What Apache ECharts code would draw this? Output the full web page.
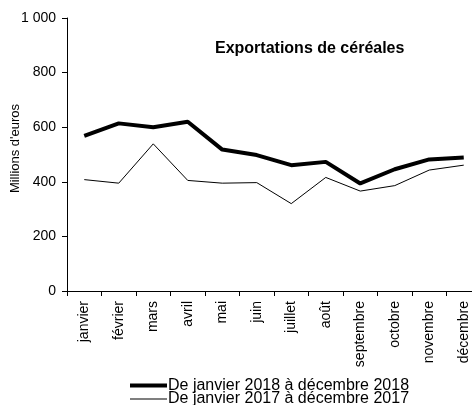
<!DOCTYPE html>
<html>
<head>
<meta charset="utf-8">
<script src="https://cdn.jsdelivr.net/npm/echarts@6/dist/echarts.min.js"></script>
<style>
  html, body { margin: 0; padding: 0; background: #fff; }
  #chart { width: 472px; height: 405px; }
</style>
</head>
<body>
<div id="chart"></div>
<script>
// mois
var months = ['janvier', 'février', 'mars', 'avril', 'mai', 'juin',
  'juillet', 'août', 'septembre', 'octobre', 'novembre', 'décembre'];
// millions d'euros
var exp2018 = [568, 614, 600, 620, 518, 498, 461, 473, 394, 446, 482, 489];
var exp2017 = [408, 395, 539, 405, 395, 397, 320, 416, 366, 386, 443, 461];
var yTicks = [0, 200, 400, 600, 800, 1000];
var names = ['De janvier 2018 à décembre 2018', 'De janvier 2017 à décembre 2017'];

var font = 'Arial, "Liberation Sans", sans-serif';
var chart = echarts.init(document.getElementById('chart'));

function legendRow(name, top, thick) {
  return {
    orient: 'horizontal',
    left: 130,
    top: top,
    padding: 0,
    icon: 'rect',
    itemWidth: 37,
    itemHeight: thick,
    textStyle: { fontFamily: font, fontSize: 16, color: '#000', lineHeight: 13, padding: [0, 0, 0, -4] },
    data: [name]
  };
}

var option = {
  backgroundColor: '#ffffff',
  animation: false,
  textStyle: { fontFamily: font, color: '#000' },
  title: {
    text: 'Exportations de céréales',
    left: 215,
    top: 41,
    padding: 0,
    textStyle: { fontFamily: font, fontSize: 16, fontWeight: 'bold', color: '#000' }
  },
  // the last category runs past the right edge, as in the original
  grid: { left: 67, top: 18, width: 414, height: 273, containLabel: false, outerBoundsMode: 'none' },
  legend: [
    legendRow(names[0], 377.5, 4),
    legendRow(names[1], 391, 1)
  ],
  xAxis: {
    type: 'category',
    data: months,
    boundaryGap: true,
    axisLine: { lineStyle: { color: '#000', width: 1 } },
    axisTick: { show: true, length: 5, lineStyle: { color: '#000' } },
    axisLabel: { rotate: 90, margin: 10, fontSize: 14, color: '#000', fontFamily: font, interval: 0 },
    splitLine: { show: false }
  },
  yAxis: {
    type: 'value',
    min: yTicks[0],
    max: yTicks[yTicks.length - 1],
    interval: 200,
    name: "Millions d'euros",
    nameLocation: 'middle',
    nameGap: 45,
    nameMoveOverlap: false,
    nameRotate: 90,
    nameTextStyle: { fontSize: 13, color: '#000', fontFamily: font, padding: [0, 0, 0, 12] },
    axisLine: { show: true, lineStyle: { color: '#000', width: 1 } },
    axisTick: { show: true, length: 5, lineStyle: { color: '#000' } },
    axisLabel: {
      margin: 11, fontSize: 14, color: '#000', fontFamily: font,
      formatter: function (v) { return v >= 1000 ? String(v).replace(/\B(?=(\d{3})+$)/g, ' ') : String(v); }
    },
    splitLine: { show: false }
  },
  series: [
    {
      name: names[0],
      type: 'line',
      data: exp2018,
      symbol: 'none',
      lineStyle: { color: '#000', width: 4 },
      itemStyle: { color: '#000' }
    },
    {
      name: names[1],
      type: 'line',
      data: exp2017,
      symbol: 'none',
      lineStyle: { color: '#000', width: 1 },
      itemStyle: { color: '#000' }
    }
  ]
};
chart.setOption(option);
</script>
</body>
</html>
